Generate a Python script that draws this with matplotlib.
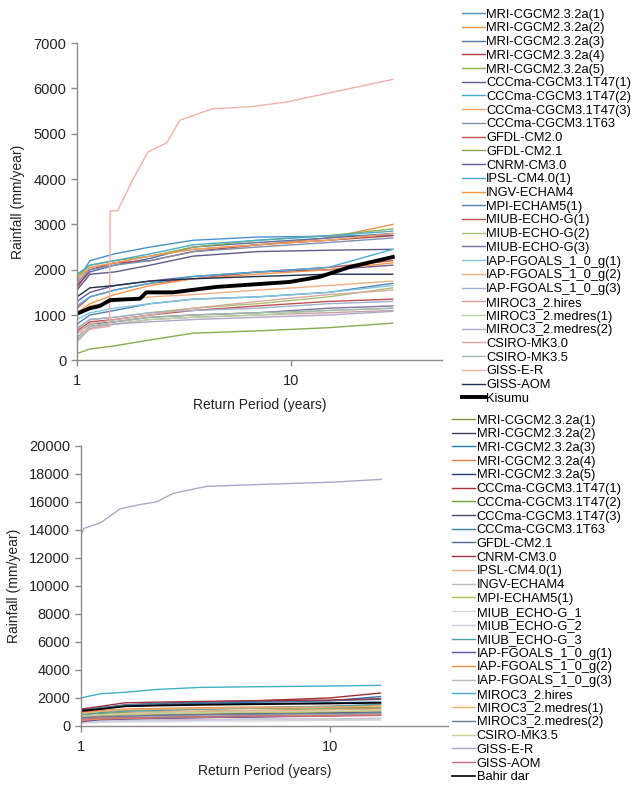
"""Rainfall return-period curves: GCM runs against Kisumu and Bahir dar observations."""

import matplotlib

matplotlib.use("Agg")

import matplotlib.pyplot as plt
from matplotlib.ticker import FixedLocator, NullLocator, FuncFormatter

plt.rcParams["font.family"] = ["Liberation Sans", "DejaVu Sans"]

# ---------------- top panel (Kisumu) ----------------
top_periods = [1.0, 1.15, 1.5, 2.2, 3.5, 7, 15, 30]

top_models = [
    "MRI-CGCM2.3.2a(1)", "MRI-CGCM2.3.2a(2)", "MRI-CGCM2.3.2a(3)", "MRI-CGCM2.3.2a(4)",
    "MRI-CGCM2.3.2a(5)", "CCCma-CGCM3.1T47(1)", "CCCma-CGCM3.1T47(2)", "CCCma-CGCM3.1T47(3)",
    "CCCma-CGCM3.1T63", "GFDL-CM2.0", "GFDL-CM2.1", "CNRM-CM3.0", "IPSL-CM4.0(1)",
    "INGV-ECHAM4", "MPI-ECHAM5(1)", "MIUB-ECHO-G(1)", "MIUB-ECHO-G(2)", "MIUB-ECHO-G(3)",
    "IAP-FGOALS_1_0_g(1)", "IAP-FGOALS_1_0_g(2)", "IAP-FGOALS_1_0_g(3)", "MIROC3_2.hires",
    "MIROC3_2.medres(1)", "MIROC3_2.medres(2)", "CSIRO-MK3.0", "CSIRO-MK3.5",
    "GISS-E-R", "GISS-AOM",
]

top_values = [
    [1750, 2200, 2350, 2500, 2650, 2720, 2740, 2760],
    [1700, 2050, 2150, 2300, 2450, 2550, 2700, 3000],
    [1650, 1950, 2100, 2250, 2500, 2600, 2700, 2800],
    [1600, 2000, 2150, 2200, 2400, 2550, 2650, 2750],
    [1850, 2100, 2200, 2300, 2500, 2650, 2750, 2900],
    [1550, 1900, 1950, 2100, 2300, 2400, 2430, 2450],
    [1900, 2100, 2200, 2350, 2550, 2650, 2750, 2850],
    [1800, 2050, 2150, 2300, 2450, 2550, 2650, 2800],
    [1700, 2000, 2100, 2200, 2400, 2500, 2600, 2700],
    [1150, 1400, 1550, 1700, 1800, 1950, 2050, 2200],
    [150, 250, 320, 450, 600, 650, 720, 820],
    [1300, 1500, 1650, 1750, 1850, 1950, 2000, 2100],
    [1200, 1400, 1550, 1700, 1850, 1950, 2050, 2450],
    [1050, 1250, 1450, 1650, 1800, 1900, 2000, 2150],
    [800, 1000, 1100, 1250, 1350, 1400, 1500, 1700],
    [650, 850, 900, 1000, 1100, 1200, 1300, 1350],
    [700, 900, 950, 1050, 1150, 1250, 1400, 1600],
    [600, 800, 850, 950, 1000, 1050, 1150, 1200],
    [900, 1050, 1150, 1250, 1350, 1400, 1500, 1650],
    [1000, 1200, 1300, 1400, 1450, 1550, 1650, 1750],
    [700, 900, 950, 1050, 1100, 1150, 1250, 1300],
    [500, 750, 800, 900, 950, 1000, 1050, 1100],
    [400, 700, 800, 900, 950, 1000, 1100, 1150],
    [450, 700, 800, 850, 900, 950, 1000, 1080],
    [600, 800, 900, 1000, 1150, 1300, 1450, 1550],
    [500, 750, 850, 950, 1000, 1050, 1100, 1150],
    None,  # GISS-E-R has its own periods below
    [1400, 1600, 1650, 1750, 1800, 1850, 1900, 1900],
]

top_colors = [
    "#4a90c8", "#e8964a", "#5470a8", "#b0404a", "#8fb050", "#5f5a8a", "#4bacc6",
    "#f0a060", "#8090b0", "#c05050", "#8aaa50", "#6a5a9a", "#4aacd6", "#f79646",
    "#5580b8", "#c0504d", "#a8c070", "#8070a0", "#80c8e0", "#f0b080", "#a0b0d0",
    "#c8a0a0", "#b8d0a0", "#b0a8c8", "#d8a8a0", "#a0b8a8", "#f0b0a8", "#203050",
]

top_giss_er_periods = [1.0, 1.2, 1.42, 1.43, 1.55, 1.83, 2.15, 2.63, 3.03, 4.3, 6.6, 9.5, 30]
top_giss_er_values = [600, 700, 750, 3300, 3300, 4000, 4600, 4800, 5300, 5550, 5600, 5700, 6200]

kisumu_periods = [1.0, 1.15, 1.28, 1.43, 1.97, 2.11, 2.82, 4.49, 9.9, 13.6, 18.9, 30]
kisumu_values = [1030, 1150, 1200, 1330, 1360, 1500, 1500, 1620, 1730, 1840, 2060, 2280]

# ---------------- bottom panel (Bahir dar) ----------------
bottom_periods = [1.0, 1.2, 1.5, 2, 3, 5, 10, 16]

bottom_models = [
    "MRI-CGCM2.3.2a(1)", "MRI-CGCM2.3.2a(2)", "MRI-CGCM2.3.2a(3)", "MRI-CGCM2.3.2a(4)",
    "MRI-CGCM2.3.2a(5)", "CCCma-CGCM3.1T47(1)", "CCCma-CGCM3.1T47(2)", "CCCma-CGCM3.1T47(3)",
    "CCCma-CGCM3.1T63", "GFDL-CM2.1", "CNRM-CM3.0", "IPSL-CM4.0(1)", "INGV-ECHAM4",
    "MPI-ECHAM5(1)", "MIUB_ECHO-G_1", "MIUB_ECHO-G_2", "MIUB_ECHO-G_3",
    "IAP-FGOALS_1_0_g(1)", "IAP-FGOALS_1_0_g(2)", "IAP-FGOALS_1_0_g(3)", "MIROC3_2.hires",
    "MIROC3_2.medres(1)", "MIROC3_2.medres(2)", "CSIRO-MK3.5", "GISS-E-R", "GISS-AOM",
]

bottom_values = [
    [1000, 1050, 1100, 1150, 1200, 1250, 1300, 1350],
    [700, 750, 800, 850, 850, 900, 950, 1000],
    [1100, 1300, 1450, 1550, 1600, 1700, 1800, 2100],
    [900, 1100, 1200, 1250, 1300, 1350, 1400, 1500],
    [1100, 1250, 1400, 1500, 1550, 1600, 1650, 1700],
    [1000, 1200, 1500, 1600, 1700, 1800, 2000, 2350],
    [800, 900, 950, 1000, 1050, 1100, 1200, 1250],
    [400, 450, 500, 550, 600, 650, 750, 800],
    [1100, 1300, 1500, 1600, 1700, 1750, 1800, 1900],
    [500, 550, 600, 650, 700, 750, 800, 850],
    [1200, 1400, 1650, 1700, 1750, 1800, 1850, 1950],
    [700, 800, 900, 1000, 1050, 1100, 1150, 1200],
    [300, 350, 400, 450, 450, 500, 500, 550],
    [600, 700, 800, 850, 900, 950, 1000, 1100],
    [200, 250, 300, 300, 350, 350, 400, 400],
    [300, 350, 350, 400, 400, 450, 450, 500],
    [800, 950, 1050, 1100, 1200, 1300, 1400, 1550],
    [300, 450, 500, 550, 600, 650, 700, 900],
    [400, 500, 550, 600, 650, 700, 750, 800],
    [500, 600, 650, 700, 750, 800, 850, 900],
    [2000, 2300, 2400, 2600, 2750, 2800, 2850, 2900],
    [900, 1050, 1150, 1200, 1250, 1300, 1350, 1400],
    [600, 650, 700, 750, 800, 850, 900, 950],
    [700, 800, 850, 900, 950, 1000, 1050, 1100],
    None,  # GISS-E-R has its own periods below
    [500, 550, 600, 600, 650, 700, 700, 750],
]

bottom_colors = [
    "#8a8a40", "#404060", "#2a7ab8", "#e08050", "#1f3f70", "#a03030", "#70a040",
    "#504870", "#3a80a0", "#506a90", "#a03040", "#f0b090", "#c8b8c0", "#b8b850",
    "#d8d8d8", "#c8d0e0", "#50a0a8", "#7050a0", "#f09040", "#b8b8c8", "#40b0c8",
    "#f0b070", "#6a7a9a", "#c8d0a0", "#a8a8c8", "#c07080",
]

bottom_giss_er_periods = [1.0, 1.03, 1.2, 1.44, 1.73, 2.02, 2.35, 3.2, 5.57, 10.3, 16.1]
bottom_giss_er_values = [13600, 14100, 14500, 15500, 15800, 16000, 16600, 17100, 17250, 17400, 17600]

bahir_dar_values = [1100, 1200, 1400, 1450, 1500, 1550, 1600, 1650]

AXIS_GREY = "#8c8c8c"


def _style_axes(ax, xmax, ymax, ystep):
    ax.set_xscale("log")
    ax.set_xlim(1, xmax)
    ax.set_ylim(0, ymax)
    ax.xaxis.set_major_locator(FixedLocator([1, 10]))
    ax.xaxis.set_minor_locator(NullLocator())
    ax.xaxis.set_major_formatter(FuncFormatter(lambda v, _: f"{v:g}"))
    ax.set_yticks(range(0, ymax + 1, ystep))
    for side in ("top", "right"):
        ax.spines[side].set_visible(False)
    for side in ("left", "bottom"):
        ax.spines[side].set_color(AXIS_GREY)
        ax.spines[side].set_linewidth(1.0)
    ax.tick_params(axis="both", colors=AXIS_GREY, labelcolor="#222222", labelsize=10.5,
                   length=4, width=1.0, direction="out")
    ax.tick_params(axis="x", pad=6)
    ax.set_xlabel("Return Period (years)", fontsize=10, color="#222222", labelpad=7)
    ax.set_ylabel("Rainfall (mm/year)", fontsize=10, color="#222222", labelpad=6)


fig = plt.figure(figsize=(6.36, 7.85), dpi=100)

ax_top = fig.add_axes([0.121, 0.541, 0.574, 0.404])
for name, vals, color in zip(top_models, top_values, top_colors):
    if vals is None:
        ax_top.plot(top_giss_er_periods, top_giss_er_values, color=color, lw=1.0, label=name)
    else:
        ax_top.plot(top_periods, vals, color=color, lw=1.0, label=name)
ax_top.plot(kisumu_periods, kisumu_values, color="black", lw=2.8, label="Kisumu")
_style_axes(ax_top, 51, 7000, 1000)

ax_bot = fig.add_axes([0.127, 0.0752, 0.577, 0.357])
for name, vals, color in zip(bottom_models, bottom_values, bottom_colors):
    if vals is None:
        ax_bot.plot(bottom_giss_er_periods, bottom_giss_er_values, color=color, lw=1.0, label=name)
    else:
        ax_bot.plot(bottom_periods, vals, color=color, lw=1.0, label=name)
ax_bot.plot(bottom_periods, bahir_dar_values, color="black", lw=1.2, label="Bahir dar")
_style_axes(ax_bot, 29.8, 20000, 2000)

legend_kw = dict(loc="upper left", frameon=False, fontsize=9.3, handlelength=1.8,
                 handletextpad=0.1, labelspacing=0.13, borderpad=0, borderaxespad=0)
ax_top.legend(bbox_to_anchor=(0.726, 0.989), bbox_transform=fig.transFigure, **legend_kw)
ax_bot.legend(bbox_to_anchor=(0.711, 0.472), bbox_transform=fig.transFigure, **legend_kw)

fig.savefig("out.png", dpi=100)
